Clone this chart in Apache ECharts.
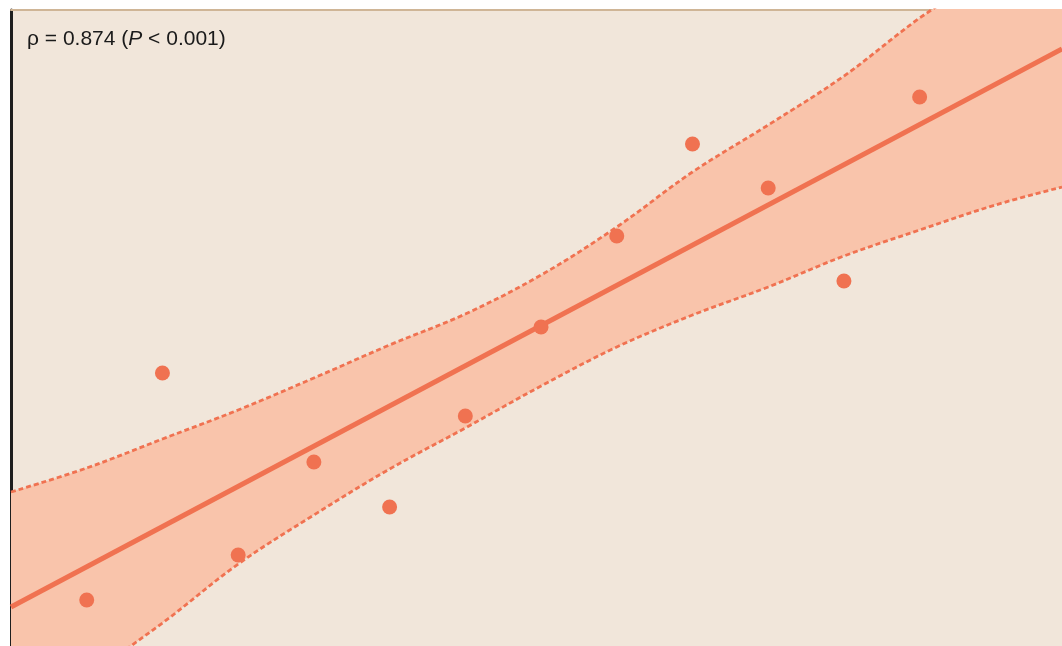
<!DOCTYPE html>
<html>
<head>
<meta charset="utf-8">
<script src="https://cdn.jsdelivr.net/npm/echarts@6/dist/echarts.min.js"></script>
<style>
  html, body { margin: 0; padding: 0; background: #ffffff; }
  #chart { width: 1062px; height: 646px; }
</style>
</head>
<body>
<div id="chart"></div>
<script>
// Observations (x index, measured value)
const obsX = [1, 2, 3, 4, 5, 6, 7, 8, 9, 10, 11, 12];
const obsY = [7.23, 42.92, 14.31, 28.93, 21.86, 36.16, 50.16, 64.47, 78.93, 72.01, 57.39, 86.32];

// Fitted line, evaluated at the two ends of the x range
const fitX = [0, 13.88];
const fitY = [6.13, 93.87];

// 95% confidence band around the fit
const bandX     = [0, 1, 2, 3, 4, 5, 6, 7, 8, 9, 10, 11, 12, 13, 13.88];
const bandUpper = [24.21, 27.99, 32.55, 37.11, 42.14, 47.33, 52.20, 58.33, 65.88, 74.53, 81.92, 89.62, 98.74, 106.6, 115.57];
const bandLower = [-11.95, -4.72, 3.62, 12.89, 20.60, 27.83, 34.28, 40.88, 47.01, 52.04, 56.45, 61.32, 65.41, 69.34, 72.17];

const corrLabel = { pre: 'ρ = 0.874 (', italic: 'P', post: ' < 0.001)' };

const ACCENT = '#f07251';
const BAND = '#f9c4ab';
const PANEL = '#f1e6da';
const SMOOTH = 0.35;

const chart = echarts.init(document.getElementById('chart'), null, { renderer: 'canvas' });

const zip = (xs, ys) => xs.map((x, i) => [x, ys[i]]);

const dotted = { color: ACCENT, width: 2.8, type: [5, 3] };

const option = {
  animation: false,
  backgroundColor: '#ffffff',
  grid: {
    left: 11, right: 0, top: 10, bottom: 0,
    show: true, backgroundColor: PANEL, borderWidth: 0
  },
  xAxis: {
    type: 'value', min: 0, max: 13.88, position: 'top',
    axisLine: { show: true, onZero: false, lineStyle: { color: '#cfb596', width: 2 } },
    axisTick: { show: false }, axisLabel: { show: false }, splitLine: { show: false }
  },
  yAxis: {
    type: 'value', min: 0, max: 100,
    axisLine: { show: true, onZero: false, lineStyle: { color: '#1e1e1e', width: 3 } },
    axisTick: { show: false }, axisLabel: { show: false }, splitLine: { show: false }
  },
  series: [
    {
      // band fill: shade everything under the upper edge ...
      type: 'line', data: zip(bandX, bandUpper), symbol: 'none', smooth: SMOOTH,
      silent: true, z: 1, lineStyle: { opacity: 0 },
      areaStyle: { color: BAND, opacity: 1, origin: 'start' }
    },
    {
      // ... then restore the panel colour under the lower edge
      type: 'line', data: zip(bandX, bandLower), symbol: 'none', smooth: SMOOTH,
      silent: true, z: 1, lineStyle: { opacity: 0 },
      areaStyle: { color: PANEL, opacity: 1, origin: 'start' }
    },
    {
      type: 'line', data: zip(bandX, bandUpper), symbol: 'none', smooth: SMOOTH,
      silent: true, z: 2, lineStyle: dotted
    },
    {
      type: 'line', data: zip(bandX, bandLower), symbol: 'none', smooth: SMOOTH,
      silent: true, z: 2, lineStyle: dotted
    },
    {
      type: 'line', data: zip(fitX, fitY), symbol: 'none', z: 3, silent: true,
      lineStyle: { color: ACCENT, width: 5 }
    },
    {
      type: 'scatter', data: zip(obsX, obsY), symbolSize: 15, z: 4,
      itemStyle: { color: ACCENT, opacity: 1 }
    }
  ],
  graphic: [
    {
      type: 'text', left: 27, top: 29, z: 10,
      style: {
        text: '{a|' + corrLabel.pre + '}{b|' + corrLabel.italic + '}{a|' + corrLabel.post + '}',
        rich: {
          a: { fontFamily: 'Liberation Sans, Arial, sans-serif', fontSize: 21, fill: '#1a1a1a' },
          b: { fontFamily: 'Liberation Sans, Arial, sans-serif', fontSize: 21, fontStyle: 'italic', fill: '#1a1a1a' }
        }
      }
    }
  ]
};

chart.setOption(option);
</script>
</body>
</html>
